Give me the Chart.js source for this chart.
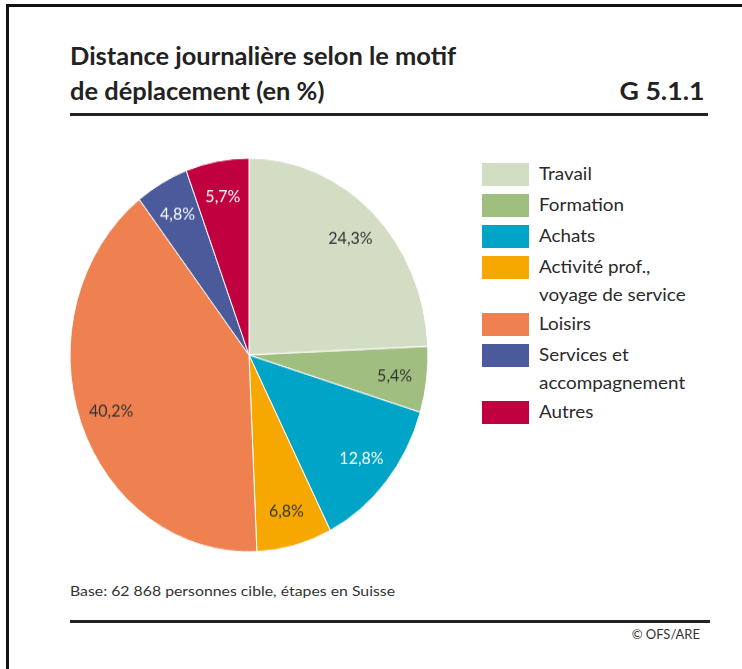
<!DOCTYPE html>
<html>
<head>
<meta charset="utf-8">
<script src="https://cdn.jsdelivr.net/npm/chart.js@4.4.1/dist/chart.umd.min.js"></script>
<style>
  html, body { margin: 0; padding: 0; background: #fff; }
  body { width: 742px; height: 669px; position: relative; overflow: hidden; font-family: Lato, "Open Sans", sans-serif; color: #222; }
  .frame { position: absolute; left: 6px; top: 4px; width: 800px; height: 800px; border-left: 3px solid #111; border-top: 3px solid #111; }
  .txt { position: absolute; white-space: nowrap; transform-origin: left top; }
  .title { left: 70px; top: 38px; font-size: 24px; font-weight: 700; line-height: 34px; transform: scale(1.06, 1.04); }
  .code { right: 38px; top: 73px; font-size: 24px; font-weight: 700; line-height: 34px; transform-origin: right top; transform: scale(1.11, 1.04); }
  .rule { position: absolute; height: 3px; background: #222; }
  #pieWrap { position: absolute; left: 64px; top: 170px; width: 370px; height: 370px; transform: scaleY(1.1); transform-origin: center center; }
  #legend { position: absolute; left: 482px; top: 163px; }
  .item { display: flex; align-items: flex-start; margin-bottom: 8px; }
  .sw { width: 47px; height: 23px; flex: none; }
  .lab { margin-left: 10px; font-size: 17px; line-height: 26px; margin-top: -3px; color: #2a2a2a; transform: scale(1.11, 1.06); transform-origin: left top; }
  .foot { left: 70px; top: 582px; font-size: 14px; color: #333; transform: scaleX(1.13); }
  .copy { right: 42px; top: 626px; font-size: 13px; color: #333; }
</style>
</head>
<body>
<div class="frame"></div>
<div class="txt title">Distance journalière selon le motif<br>de déplacement (en %)</div>
<div class="txt code">G 5.1.1</div>
<div class="rule" style="left:70px; top:113px; width:638px;"></div>
<div id="pieWrap"><canvas id="pie" width="370" height="370"></canvas></div>
<div id="legend"></div>
<div class="txt foot">Base: 62 868 personnes cible, étapes en Suisse</div>
<div class="rule" style="left:70px; top:620px; width:640px; height:3px;"></div>
<div class="txt copy">© OFS/ARE</div>
<script>
// motifs de déplacement
var motifs = ['Travail', 'Formation', 'Achats', ['Activité prof.,', 'voyage de service'], 'Loisirs', ['Services et', 'accompagnement'], 'Autres'];
// part de la distance journalière (%)
var parts = [24.3, 5.4, 12.8, 6.8, 40.2, 4.8, 5.7];
var couleurs = ['#d3ddc4', '#9fbe7f', '#00a4c6', '#f6a800', '#ef8050', '#4a5a9b', '#c0003f'];
var couleursTexte = ['#333', '#333', '#fff', '#333', '#333', '#fff', '#fff'];

// Legend in HTML (multi-line labels)
var legend = document.getElementById('legend');
for (var i = 0; i < motifs.length; i++) {
    var item = document.createElement('div');
    item.className = 'item';
    var sw = document.createElement('div');
    sw.className = 'sw';
    sw.style.background = couleurs[i];
    var lab = document.createElement('div');
    lab.className = 'lab';
    lab.innerHTML = [].concat(motifs[i]).join('<br>');
    item.appendChild(sw);
    item.appendChild(lab);
    legend.appendChild(item);
}

// Percent labels inside slices
var sliceLabels = {
    id: 'sliceLabels',
    afterDatasetsDraw: function(chart) {
        var ctx = chart.ctx;
        var meta = chart.getDatasetMeta(0);
        ctx.save();
        ctx.font = '16px Lato, sans-serif';
        ctx.textAlign = 'center';
        ctx.textBaseline = 'middle';
        meta.data.forEach(function(arc, i) {
            var p = arc.getProps(['x', 'y', 'startAngle', 'endAngle', 'outerRadius'], true);
            var mid = (p.startAngle + p.endAngle) / 2;
            var r = p.outerRadius * 0.82;
            ctx.fillStyle = couleursTexte[i];
            ctx.fillText(parts[i].toFixed(1).replace('.', ',') + '%', p.x + Math.cos(mid) * r, p.y + Math.sin(mid) * r);
        });
        ctx.restore();
    }
};

var ctx = document.getElementById('pie').getContext('2d');
var pieChart = new Chart(ctx, {
    type: 'pie',
    data: {
        labels: motifs,
        datasets: [{
            data: parts,
            backgroundColor: couleurs,
            borderColor: '#ffffff',
            borderWidth: 1
        }]
    },
    options: {
        responsive: false,
        animation: false,
        radius: 179,
        layout: { padding: 0 },
        plugins: {
            legend: { display: false },
            tooltip: { enabled: false }
        }
    },
    plugins: [sliceLabels]
});
</script>
</body>
</html>
